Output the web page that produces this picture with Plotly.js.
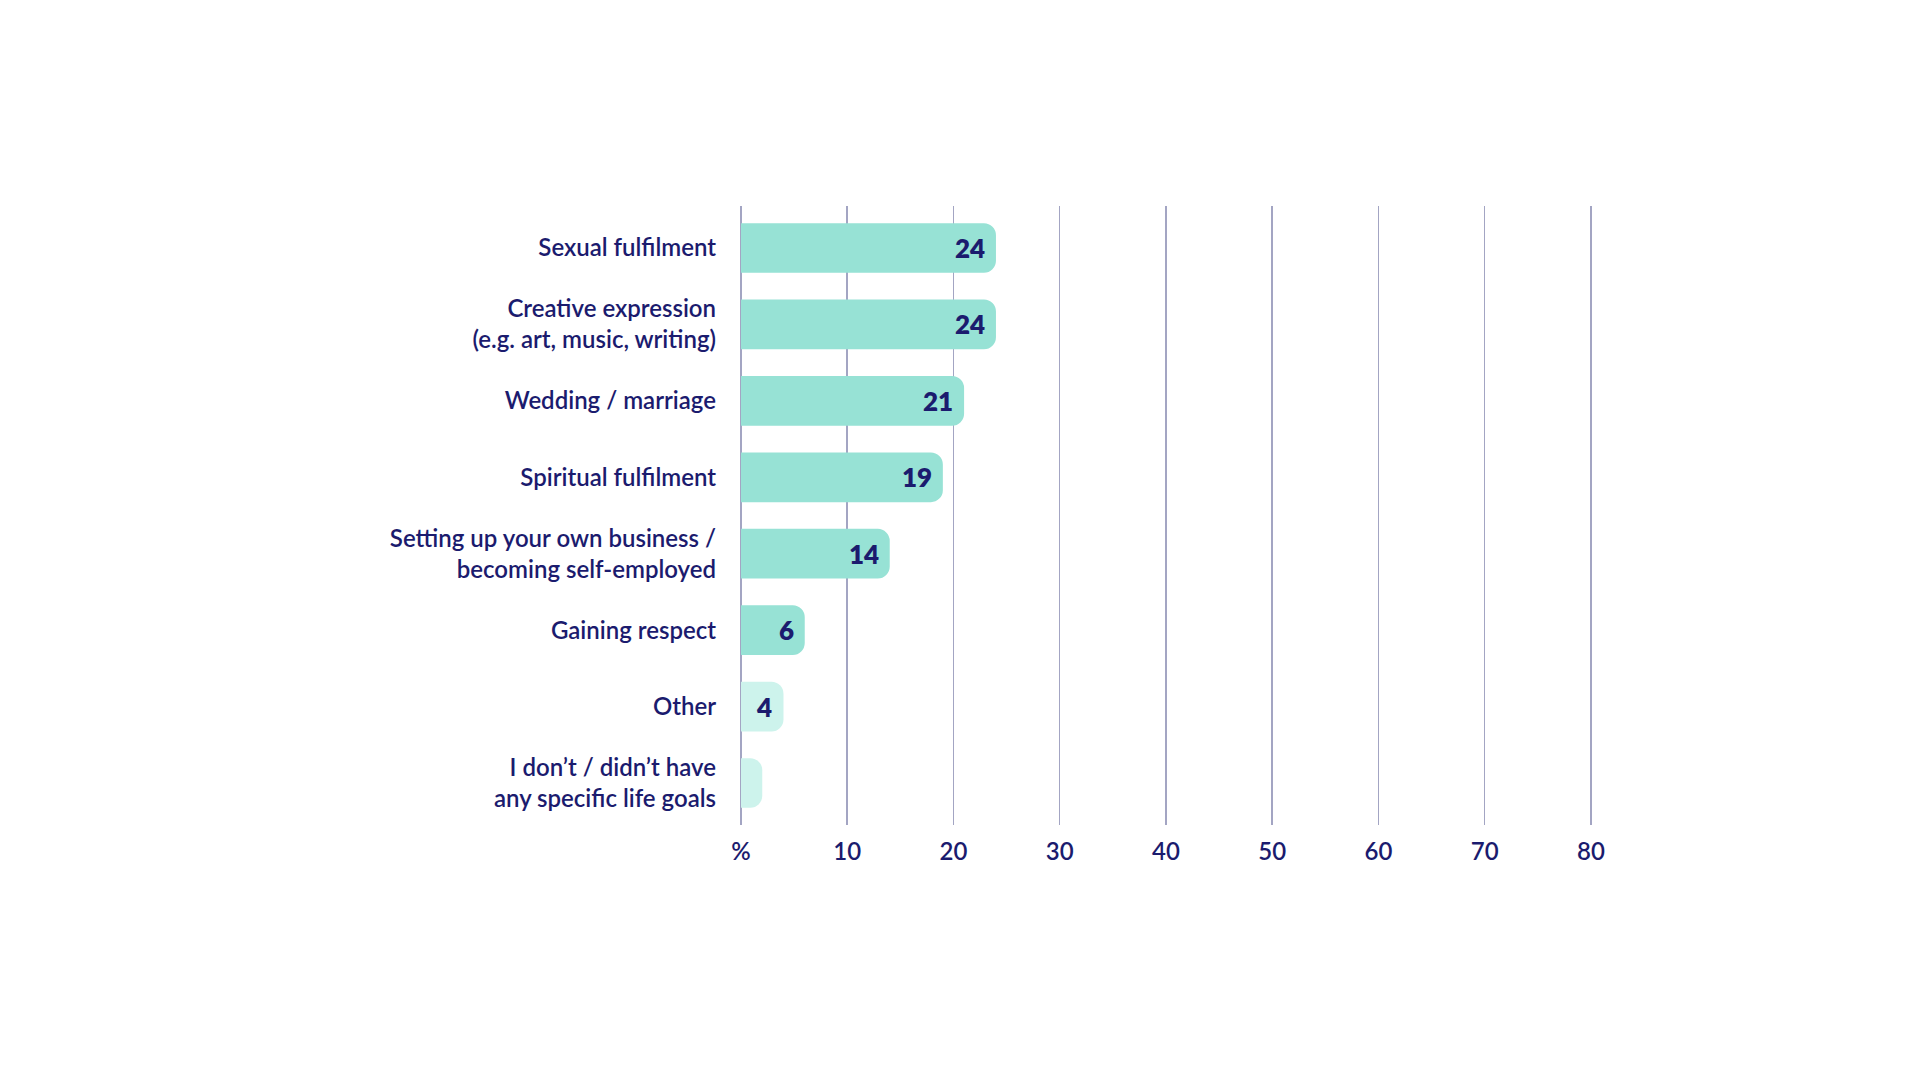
<!DOCTYPE html>
<html>
<head>
<meta charset="utf-8">
<script src="https://cdn.plot.ly/plotly-3.0.1.min.js"></script>
<style>
  html, body { margin: 0; padding: 0; background: #ffffff; }
  #chart { width: 1920px; height: 1080px; }
</style>
</head>
<body>
<div id="chart"></div>
<script>
// ---- data ----
const categories = [
  "Sexual fulfilment",
  "Creative expression<br>(e.g. art, music, writing)",
  "Wedding / marriage",
  "Spiritual fulfilment",
  "Setting up your own business /<br>becoming self-employed",
  "Gaining respect",
  "Other",
  "I don\u2019t / didn\u2019t have<br>any specific life goals"
];
const values = [24, 24, 21, 19, 14, 6, 4, 2];
const valueLabels = ["24", "24", "21", "19", "14", "6", "4", ""];
const barShade = ["main", "main", "main", "main", "main", "main", "light", "light"];
const tickValues = [0, 10, 20, 30, 40, 50, 60, 70, 80];
const tickLabels = ["%", "10", "20", "30", "40", "50", "60", "70", "80"];

// ---- styles ----
const NAVY = "#1b1b6e";
const GRID = "#a3a5c3";
const shadeColors = { main: "#97e2d5", light: "#cdf3ec" };
const FONT = "Lato, 'Open Sans', sans-serif";

const trace = {
  type: "bar",
  orientation: "h",
  x: values,
  y: categories,
  marker: {
    color: barShade.map(s => shadeColors[s]),
    cornerradius: 12
  },
  hoverinfo: "skip"
};

const annotations = values.map((v, i) => ({
  x: v,
  y: categories[i],
  xref: "x",
  yref: "y",
  text: valueLabels[i],
  showarrow: false,
  xanchor: "right",
  yanchor: "middle",
  xshift: -9,
  font: { family: FONT, size: 26, color: NAVY, weight: 800 }
}));

const layout = {
  width: 1920,
  height: 1080,
  paper_bgcolor: "#ffffff",
  plot_bgcolor: "#ffffff",
  margin: { l: 741, r: 327, t: 206, b: 255, pad: 0 },
  showlegend: false,
  bargap: 0.35,
  xaxis: {
    range: [0, 80.2],
    tickvals: tickValues,
    ticktext: tickLabels,
    showgrid: true,
    gridcolor: GRID,
    gridwidth: 1.6,
    zeroline: true,
    zerolinecolor: GRID,
    zerolinewidth: 2,
    showline: false,
    ticks: "",
    ticklabelstandoff: 10,
    tickfont: { family: FONT, size: 24, color: NAVY, weight: 600 },
    fixedrange: true
  },
  yaxis: {
    type: "category",
    categoryorder: "array",
    categoryarray: categories,
    range: [7.55, -0.55],
    showgrid: false,
    zeroline: false,
    showline: false,
    ticks: "",
    ticklabelstandoff: 24,
    tickfont: { family: FONT, size: 24, color: NAVY, weight: 600 },
    fixedrange: true
  },
  annotations: annotations
};

Plotly.newPlot("chart", [trace], layout, { displayModeBar: false, staticPlot: true });
</script>
</body>
</html>
